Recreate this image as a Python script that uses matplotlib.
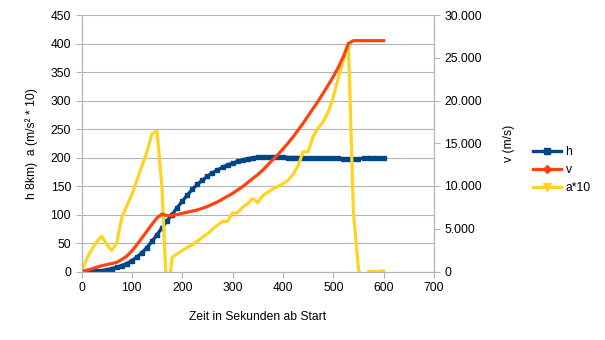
import matplotlib
matplotlib.use('Agg')
import matplotlib.pyplot as plt
from matplotlib.lines import Line2D
from matplotlib.ticker import FuncFormatter, MultipleLocator

plt.rcParams['font.family'] = ['Liberation Sans', 'DejaVu Sans']
plt.rcParams['font.size'] = 8.7

# Zeit in Sekunden (Schritte von 10 s)
t = list(range(0, 610, 10))

# Höhe h (km)
h = [0, 0.1, 0.3, 0.7, 1.5, 3, 5, 7.5, 10.5, 14,
     19, 25.5, 33, 42, 53, 64.5, 77, 89, 100, 112,
     123, 134, 144, 153, 160, 167, 173, 178, 183, 187,
     190, 193, 196, 198, 199.5, 200.5, 201, 201.5, 201, 201,
     200.5, 200, 200, 200, 199.5, 199.5, 199, 199, 199, 198.5,
     198.5, 198.5, 198, 198, 198, 198, 198.5, 200, 199, 198.5,
     198.5]

# Geschwindigkeit v (m/s)
v = [0, 130, 300, 500, 670, 800, 930, 1070, 1400, 1800,
     2400, 3130, 3930, 4730, 5530, 6270, 6730, 6530, 6530, 6670,
     6800, 6930, 7070, 7200, 7400, 7600, 7870, 8130, 8470, 8800,
     9130, 9530, 9930, 10400, 10870, 11330, 11870, 12470, 13070, 13670,
     14330, 15000, 15730, 16530, 17330, 18200, 19070, 19930, 20870, 21800,
     22800, 23870, 25130, 26670, 27000, 27000, 27000, 27000, 27000, 27000,
     27000]

# Beschleunigung a*10 (m/s² * 10)
a10 = [0, 22, 38, 52, 62, 48, 37, 50, 95, 115,
       135, 160, 185, 210, 242, 246, 146, -60, 25, 31,
       37, 42, 47, 53, 60, 66, 74, 81, 88, 88,
       103, 103, 113, 119, 128, 121, 133, 139, 145, 149,
       154, 160, 170, 185, 210, 210, 237, 252, 263, 280,
       306, 340, 370, 400, 104, 5, -40, 0, 0, 0,
       1]

c_h = '#004586'
c_v = '#ff420e'
c_a = '#ffd320'
grau = '#b3b3b3'

fig = plt.figure(figsize=(6.05, 3.40), dpi=100)
ax = fig.add_axes([81.5 / 605, 1 - 271.5 / 340, (434 - 81.5) / 605, (271.5 - 15) / 340])
ax2 = ax.twinx()

ax.plot(t, h, color=c_h, lw=2.4, marker='s', markersize=3.3)
ax.plot(t, a10, color=c_a, lw=2.3)
ax2.plot(t, v, color=c_v, lw=2.3)

ax.set_xlim(0, 700)
ax.set_ylim(0, 450)
ax2.set_ylim(0, 30000)
ax.xaxis.set_major_locator(MultipleLocator(100))
ax.yaxis.set_major_locator(MultipleLocator(50))
ax2.yaxis.set_major_locator(MultipleLocator(5000))
ax2.yaxis.set_major_formatter(FuncFormatter(lambda x, p: f'{int(x):,}'.replace(',', '.')))

ax.grid(True, axis='y', color=grau, lw=0.8)
ax.set_axisbelow(True)
for a in (ax, ax2):
    a.spines['top'].set_visible(False)
    for s in ('left', 'right', 'bottom'):
        a.spines[s].set_color(grau)
    a.tick_params(color=grau, length=4, labelcolor='black')

ax.set_xlabel('Zeit in Sekunden ab Start', labelpad=12)
ax.set_ylabel('h 8km)  a (m/s² * 10)', labelpad=9)
ax2.set_ylabel('v (m/s)', labelpad=15)

handles = [
    Line2D([], [], color=c_h, lw=2.4, marker='s', markersize=5),
    Line2D([], [], color=c_v, lw=2.3, marker='D', markersize=4.5),
    Line2D([], [], color=c_a, lw=2.3, marker='v', markersize=6),
]
fig.legend(handles, ['h', 'v', 'a*10'], loc='center left',
           bbox_to_anchor=(522 / 605, 1 - 170 / 340), frameon=False,
           handlelength=2.3, handletextpad=0.4, labelspacing=0.5)

fig.savefig('out.png', dpi=100)
